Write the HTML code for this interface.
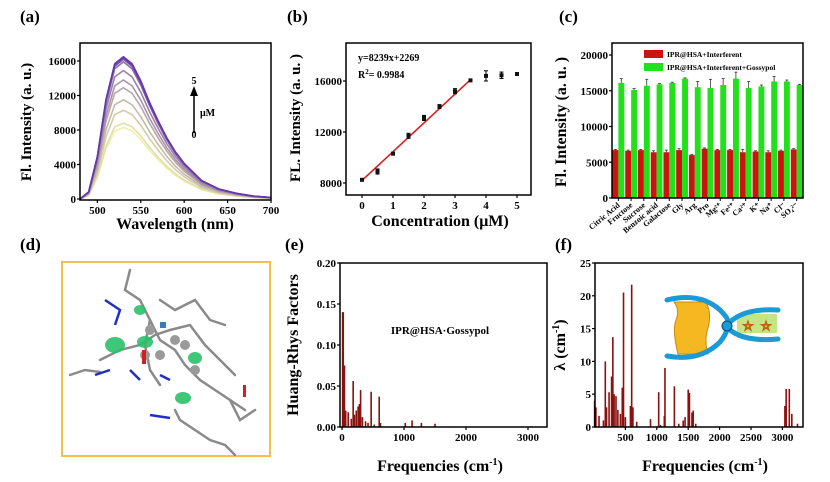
<!DOCTYPE html>
<html><head><meta charset="utf-8">
<style>
html,body{margin:0;padding:0;background:#fff;}
svg{display:block;font-family:"Liberation Serif",serif;font-weight:bold;}
</style></head>
<body>
<svg id="fig" width="830" height="482" viewBox="0 0 830 482" xmlns="http://www.w3.org/2000/svg">
<rect width="830" height="482" fill="#fff"/>
<text x="20" y="22" font-size="17">(a)</text>
<text x="287" y="22" font-size="17">(b)</text>
<text x="559" y="22" font-size="17">(c)</text>
<text x="20" y="250" font-size="17">(d)</text>
<text x="285" y="250" font-size="17">(e)</text>
<text x="555" y="250" font-size="17">(f)</text>

<g id="pa"></g>
<g id="pb"></g>
<g id="pc"></g>
<g id="pd">
  <rect x="62" y="262" width="208" height="194" fill="#fff" stroke="#f0c24a" stroke-width="2"/>
  <g stroke="#8a8a8a" stroke-width="2.5" fill="none" stroke-linecap="round">
    <path d="M130 270 L125 290 L140 300 L150 320 L160 340 L175 350 L185 365 L200 380 L215 390 L230 400 L245 410"/>
    <path d="M100 360 L120 350 L140 345 L155 335 L170 330 L190 325 L205 345 L220 360 L235 375"/>
    <path d="M70 375 L85 370 L100 372"/>
    <path d="M160 300 L175 310 L195 300 L210 320 L225 325"/>
    <path d="M175 410 L180 420 L195 430 L210 440 L225 445 L235 455"/>
    <path d="M150 320 L145 345 L150 370 L160 385"/>
    <path d="M230 400 L240 420 L255 410"/>
  </g>
  <g fill="#9a9a9a">
    <circle cx="150" cy="330" r="5"/><circle cx="160" cy="355" r="5"/><circle cx="175" cy="340" r="5"/><circle cx="185" cy="345" r="5"/><circle cx="195" cy="370" r="5"/><circle cx="145" cy="355" r="5"/>
  </g>
  <g stroke="#2030c0" stroke-width="2.5" fill="none">
    <path d="M105 300 L120 310 L115 325"/><path d="M95 375 L110 370"/><path d="M130 370 L140 380"/><path d="M160 375 L170 380"/><path d="M150 415 L170 418"/>
  </g>
  <g fill="#2bc06a" opacity="0.9">
    <ellipse cx="115" cy="345" rx="10" ry="8"/><ellipse cx="145" cy="342" rx="8" ry="6"/><ellipse cx="195" cy="358" rx="7" ry="6"/><ellipse cx="183" cy="398" rx="8" ry="6"/><ellipse cx="140" cy="310" rx="6" ry="5"/>
  </g>
  <rect x="160" y="322" width="6" height="6" fill="#3080c0"/>
  <rect x="142" y="350" width="4" height="14" fill="#d02020"/>
  <rect x="243" y="385" width="3" height="12" fill="#d02020"/>
</g>
<g id="pe"></g>
<g id="pf"></g>

<script>
const aWavelengths=[480,490,500,510,520,530,540,550,560,570,580,590,600,620,640,660,680,700];
const aShape=[0,0.05,0.3,0.7,0.95,1,0.95,0.83,0.68,0.55,0.43,0.33,0.25,0.13,0.07,0.04,0.02,0.01];
const aPeaks=[8300,8800,10300,11500,12900,13800,14900,15900,16200,16300,16500];
const aYTicks=[0,4000,8000,12000,16000];
const aXTicks=[500,550,600,650,700];
const bConc=[0,0.5,1,1.5,2,2.5,3,3.5,4,4.5,5];
const bIntensity=[8250,8900,10300,11700,13100,14000,15200,16050,16400,16450,16550];
const bErr=[80,200,100,200,200,150,200,80,400,250,100];
const bFitX=[0,3.5];
const bFitY=[8200,16100];
const bYTicks=[8000,12000,16000];
const bXTicks=[0,1,2,3,4,5];
const cCategories=["Citric Acid","Fructose","Sucrose","Benzoic acid","Galactose","Gly","Arg","Pro","Mg²⁺","Fe²⁺","Ca²⁺","K⁺","Na⁺","Cl⁻","SO₄²⁻"];
const cRed=[6700,6600,6700,6400,6400,6700,6000,6900,6700,6700,6400,6500,6400,6600,6800];
const cRedErr=[100,100,100,200,300,200,100,100,100,100,400,100,200,100,100];
const cGreen=[16100,15100,15700,15900,16100,16700,15500,15400,15800,16700,15400,15600,16300,16300,15800];
const cGreenErr=[600,200,900,100,100,100,800,1200,900,900,900,200,700,200,100];
const cYTicks=[0,5000,10000,15000,20000];
const eFreq=[10,20,40,60,100,150,180,200,230,260,280,300,330,380,420,470,520,600,620,1020,1130,1280,1500,3050];
const eHR=[0.14,0.14,0.075,0.02,0.018,0.01,0.056,0.015,0.02,0.025,0.028,0.045,0.012,0.007,0.005,0.043,0.003,0.037,0.005,0.005,0.008,0.005,0.004,0.001];
const eYTicks=[0,0.05,0.10,0.15,0.20];
const eXTicks=[0,1000,2000,3000];
const fFreq=[10,30,80,150,180,200,240,280,300,320,350,380,420,450,470,500,580,600,620,680,900,1030,1060,1120,1130,1280,1350,1420,1450,1500,1520,1560,1580,1620,3040,3060,3110,3150,3240];
const fLambda=[4,3,1.7,1,10,3,5.3,7.7,13.7,5,4.7,2.6,2,6,20.5,1.5,3.2,21.7,3,0.8,1.2,5.3,0.3,1.7,9,6.2,0.5,1,1.5,5.7,5.2,2.2,2.5,0.5,3.2,5.8,5.8,2,0.5];
const fYTicks=[0,5,10,15,20,25];
const fXTicks=[500,1000,1500,2000,2500,3000];

const NS="http://www.w3.org/2000/svg";
function el(parent,tag,attrs,text){const e=document.createElementNS(NS,tag);for(const k in attrs)e.setAttribute(k,attrs[k]);if(text!==undefined)e.textContent=text;parent.appendChild(e);return e;}
function lin(d0,d1,r0,r1){return v=>r0+(v-d0)/(d1-d0)*(r1-r0);}
// parts: array of [text, dy, fontSize]
function rich(t,parts){parts.forEach(p=>{const a={};if(p[1])a.dy=p[1];if(p[2])a['font-size']=p[2];el(t,'tspan',a,p[0]);});}

function frame(g,x0,y0,x1,y1,xs,ys,xt,yt,fmtX,fmtY){
  const r=el(g,'rect',{x:x0,y:y0,width:x1-x0,height:y1-y0,fill:'none',stroke:'#000','stroke-width':1.5});
  
  
  yt.forEach(v=>{const y=ys(v);
    el(g,'line',{x1:x0-3,x2:x0,y1:y,y2:y,stroke:'#000','stroke-width':1.2});
    const t=el(g,'text',{x:x0-4,y:y+4,'font-size':11,'text-anchor':'end'},fmtY(v));
    
    });
  xt.forEach(v=>{const x=xs(v);
    el(g,'line',{x1:x,x2:x,y1:y1,y2:y1+3,stroke:'#000','stroke-width':1.2});
    const t=el(g,'text',{x:x,y:y1+14,'font-size':11,'text-anchor':'middle'},fmtX(v));
    
    });
}
function ytitle(g,x,y,parts,size){const t=el(g,'text',{x:0,y:0,'font-size':size||15,'text-anchor':'middle',transform:`translate(${x},${y}) rotate(-90)`});rich(t,parts);return t;}
function xtitle(g,x,y,parts){const t=el(g,'text',{x:x,y:y,'font-size':16,'text-anchor':'middle'});rich(t,parts);return t;}
const cmParts=[['Frequencies (cm'],['-1',-6,10],[')',6]];

(function(){
const g=document.getElementById('pa');
const xs=lin(480,700,80,271), ys=lin(0,16000,199,61);
const c0=[240,240,170],c1=[100,55,170];
aPeaks.forEach((p,i)=>{const f=i/(aPeaks.length-1);
  const col=`rgb(${c0.map((c,k)=>Math.round(c+(c1[k]-c)*f)).join(',')})`;
  const d=aWavelengths.map((w,j)=>(j?'L':'M')+xs(w).toFixed(1)+' '+ys(p*aShape[j]).toFixed(1)).join(' ');
  const pth=el(g,'path',{d:d,fill:'none',stroke:col,'stroke-width':1.6,'stroke-linejoin':'round'});
  
  });
frame(g,80,43,271,200,xs,ys,aXTicks,aYTicks,v=>v,v=>v);
el(g,'line',{x1:194,x2:194,y1:133,y2:94,stroke:'#000','stroke-width':1.5});
el(g,'polygon',{points:'190,96 198,96 194,86',fill:'#000'});
el(g,'text',{x:194,y:84,'font-size':10,'text-anchor':'middle'},'5');
el(g,'text',{x:194,y:138,'font-size':10,'text-anchor':'middle'},'0');
el(g,'text',{x:200,y:116,'font-size':10},'μM');
ytitle(g,31,122,[['Fl. Intensity (a. u.)']]);
xtitle(g,175,229,[['Wavelength (nm)']]);
})();

(function(){
const g=document.getElementById('pb');
const xs=lin(0,5,362,517), ys=lin(8000,16000,183,81);
const fl=el(g,'line',{x1:xs(bFitX[0]),y1:ys(bFitY[0]),x2:xs(bFitX[1]),y2:ys(bFitY[1]),stroke:'#d42020','stroke-width':1.6});


bConc.forEach((c,i)=>{const x=xs(c),y=ys(bIntensity[i]),e=bErr[i]*102/8000;
  el(g,'line',{x1:x,x2:x,y1:y-e,y2:y+e,stroke:'#000','stroke-width':1});
  el(g,'line',{x1:x-2,x2:x+2,y1:y-e,y2:y-e,stroke:'#000','stroke-width':1});
  el(g,'line',{x1:x-2,x2:x+2,y1:y+e,y2:y+e,stroke:'#000','stroke-width':1});
  const r=el(g,'rect',{x:x-2,y:y-2,width:4,height:4,fill:'#111'});
  
  });
frame(g,346,43,531,195,xs,ys,bXTicks,bYTicks,v=>v,v=>v);
el(g,'text',{x:358,y:61,'font-size':10},'y=8239x+2269');
const r2=el(g,'text',{x:358,y:78,'font-size':10});
rich(r2,[['R'],['2',-4,7],['= 0.9984',4]]);
ytitle(g,300,118,[['FL. Intensity (a. u. )']]);
xtitle(g,440,226,[['Concentration (μM)']]);
})();

(function(){
const g=document.getElementById('pc');
const x0=612,x1=803,band=(x1-x0)/cCategories.length;
const ys=lin(0,20000,198,55);
cCategories.forEach((c,i)=>{const bx=x0+i*band;
  const rr=el(g,'rect',{x:bx+0.5,y:ys(cRed[i]),width:5.9,height:198-ys(cRed[i]),fill:'#c8160f'});
  
  
  const gr=el(g,'rect',{x:bx+6.4,y:ys(cGreen[i]),width:5.9,height:198-ys(cGreen[i]),fill:'#22e01a'});
  
  
  [[bx+3.4,cRed[i],cRedErr[i]],[bx+9.3,cGreen[i],cGreenErr[i]]].forEach(([cx,v,e])=>{
    el(g,'line',{x1:cx,x2:cx,y1:ys(v+e),y2:ys(v),stroke:'#333','stroke-width':0.8});
    el(g,'line',{x1:cx-1.5,x2:cx+1.5,y1:ys(v+e),y2:ys(v+e),stroke:'#333','stroke-width':0.8});});
  const t=el(g,'text',{x:0,y:0,'font-size':8,'text-anchor':'end',transform:`translate(${bx+band/2+2},${206}) rotate(-40)`},c);
  
  
  el(g,'line',{x1:bx+band/2,x2:bx+band/2,y1:198,y2:201,stroke:'#000','stroke-width':1});
});
el(g,'rect',{x:x0,y:43,width:x1-x0,height:155,fill:'none',stroke:'#000','stroke-width':1.5});
cYTicks.forEach(v=>{el(g,'line',{x1:x0-3,x2:x0,y1:ys(v),y2:ys(v),stroke:'#000','stroke-width':1.2});
  const t=el(g,'text',{x:x0-4,y:ys(v)+4,'font-size':11,'text-anchor':'end'},v);
  
  });
const l1=el(g,'rect',{x:644,y:50,width:19,height:8,fill:'#c8160f'});


const l2=el(g,'rect',{x:644,y:63,width:19,height:8,fill:'#22e01a'});


el(g,'text',{x:667,y:57,'font-size':7.5},'IPR@HSA+Interferent');
el(g,'text',{x:667,y:70,'font-size':7.5},'IPR@HSA+Interferent+Gossypol');
ytitle(g,566,122,[['Fl. Intensity (a. u. )']],16);
})();

(function(){
const g=document.getElementById('pe');
const xs=lin(0,3000,342,528), ys=lin(0,0.2,427,263);
eFreq.forEach((f,i)=>{const b=el(g,'rect',{x:xs(f)-0.8,y:ys(eHR[i]),width:1.6,height:427-ys(eHR[i]),fill:'#8b1010'});
  
  });
frame(g,340,263,547,427,xs,ys,eXTicks,eYTicks,v=>v,v=>v.toFixed(2));
el(g,'text',{x:440,y:334,'font-size':11,'text-anchor':'middle'},'IPR@HSA·Gossypol');
ytitle(g,298,345,[['Huang-Rhys Factors']],16);
xtitle(g,440,471,cmParts);
})();

(function(){
const g=document.getElementById('pf');
const xs=lin(0,2500,594,751), ys=lin(0,25,427,263);
fFreq.forEach((f,i)=>{const b=el(g,'rect',{x:xs(f)-0.8,y:ys(fLambda[i]),width:1.6,height:427-ys(fLambda[i]),fill:'#8b1010'});
  
  });
frame(g,595,263,803,427,xs,ys,fXTicks,fYTicks,v=>v,v=>v);
ytitle(g,565,345,[['λ (cm'],['-1',-6,10],[')',6]],16);
xtitle(g,705,471,cmParts);
const c=el(g,'g',{});


el(c,'rect',{x:737,y:314,width:40,height:19,fill:'#b8e070',opacity:0.85});
el(c,'path',{d:'M674 302 Q680 310 676 320 Q672 330 678 354 L708 354 Q704 340 708 328 Q712 314 706 302 Z',fill:'#f5b820',stroke:'#c88a10','stroke-width':1});
el(c,'path',{d:'M667 300 Q700 292 720 310 Q730 320 727 322',fill:'none',stroke:'#1a9ad6','stroke-width':5,'stroke-linecap':'round'});
el(c,'path',{d:'M667 356 Q700 362 720 342 Q728 332 727 326',fill:'none',stroke:'#1a9ad6','stroke-width':5,'stroke-linecap':'round'});
el(c,'path',{d:'M730 322 Q745 308 778 310',fill:'none',stroke:'#1a9ad6','stroke-width':5,'stroke-linecap':'round'});
el(c,'path',{d:'M730 330 Q745 342 778 339',fill:'none',stroke:'#1a9ad6','stroke-width':5,'stroke-linecap':'round'});
el(c,'circle',{cx:727,cy:326,r:5,fill:'#1a9ad6',stroke:'#0b4e80','stroke-width':1});
el(c,'text',{x:748,y:330,'font-size':12,fill:'none',stroke:'#c06010','stroke-width':0.8,'text-anchor':'middle'},'☆');
el(c,'text',{x:766,y:330,'font-size':12,fill:'none',stroke:'#c06010','stroke-width':0.8,'text-anchor':'middle'},'☆');
})();
</script>
</svg>
</body></html>
